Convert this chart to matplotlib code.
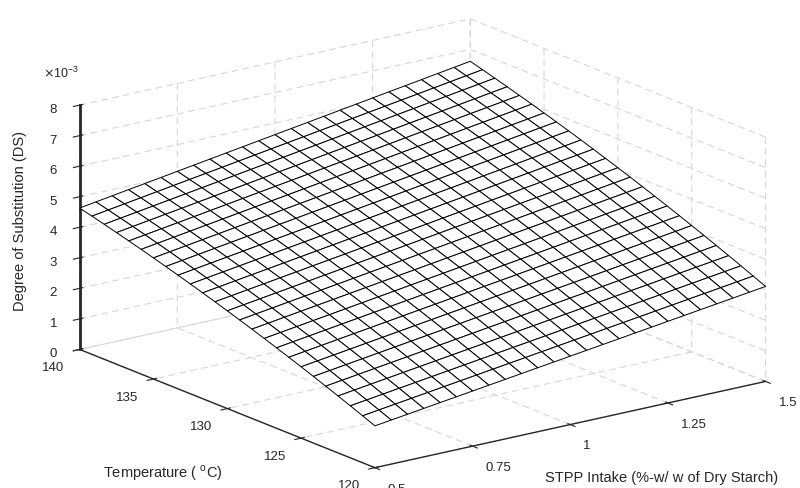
"""
Response surface: degree of substitution vs STPP intake and temperature
"""
import numpy as np
import matplotlib.pyplot as plt

# grid of the design factors
stpp_range = [0.5, 1.5]      # %-w/w of dry starch
temp_range = [120, 140]      # deg C
n_grid = 25

# fitted model in coded units (DS x 1e-3)
b0 = 4.13
b_stpp = 0.93
b_temp = 1.69
b_stpp_temp = 0.06
b_temp_temp = -0.20

stpp_ticks = [0.5, 0.75, 1, 1.25, 1.5]
stpp_labels = ['0.5', '0.75', '1', '1.25', '1.5']
temp_ticks = [120, 125, 130, 135, 140]
ds_ticks = [0, 1, 2, 3, 4, 5, 6, 7, 8]

plt.rcParams['font.family'] = ['Liberation Sans', 'DejaVu Sans']
plt.rcParams['grid.color'] = '#d6d6d6'
plt.rcParams['grid.linestyle'] = (0, (6, 4))
plt.rcParams['grid.linewidth'] = 0.8

stpp = np.linspace(stpp_range[0], stpp_range[1], n_grid)
temp = np.linspace(temp_range[0], temp_range[1], n_grid)
S, T = np.meshgrid(stpp, temp)
s = (S - 1.0) / 0.5
t = (T - 130.0) / 10.0
DS = b0 + b_stpp * s + b_temp * t + b_stpp_temp * s * t + b_temp_temp * t ** 2

fig = plt.figure(figsize=(8, 4.88), dpi=100)
ax = fig.add_axes([0.02, -0.012, 1, 1], projection='3d', proj_type='ortho')
ax.view_init(elev=17.3, azim=-126.6)
ax.set_box_aspect((1, 1.018, 0.526), zoom=1.472)

surf = ax.plot_surface(S, T, DS, rstride=1, cstride=1, color='white', edgecolor='black',
                       linewidth=0.7, shade=False, antialiased=True)
surf.set_clip_on(False)

ax.set_xlim(0.5, 1.5)
ax.set_ylim(120, 140)
ax.set_zlim(0, 8)
ax.set_xticks(stpp_ticks, stpp_labels)
ax.set_yticks(temp_ticks, [str(v) for v in temp_ticks])
ax.set_zticks(ds_ticks, [str(v) for v in ds_ticks])

for axis in (ax.xaxis, ax.yaxis, ax.zaxis):
    axis.set_pane_color((1, 1, 1, 1))
    axis.pane.set_edgecolor('white')
    axis.line.set_color('#262626')
    axis.line.set_linewidth(1.0)
ax.zaxis.line.set_linewidth(2.0)
ax.tick_params(labelsize=9.5, colors='#262626')
ax.xaxis.set_tick_params(pad=0)
ax.yaxis.set_tick_params(pad=-1)
ax.zaxis.set_tick_params(pad=-2)
for lbl in ax.get_xticklabels():
    lbl.set_ha('left')
for lbl in ax.get_yticklabels():
    lbl.set_ha('right')
for lbl in ax.get_zticklabels():
    lbl.set_ha('right')

fig.text(0.025, 0.548, 'Degree of Substitution (DS)', rotation=90, fontsize=10.5,
         color='#262626', ha='center', va='center')
fig.text(0.203, 0.031, 'Temperature ( $^{\\mathregular{o}}$C)', fontsize=10.5,
         color='#262626', ha='center', va='center')
fig.text(0.827, 0.02, 'STPP Intake (%-w/ w of Dry Starch)', fontsize=10.5,
         color='#262626', ha='center', va='center')
fig.text(0.054, 0.85, '$\\times\\mathregular{10^{-3}}$', fontsize=9,
         color='#262626', ha='left', va='center')

fig.savefig('out.png', dpi=100)
